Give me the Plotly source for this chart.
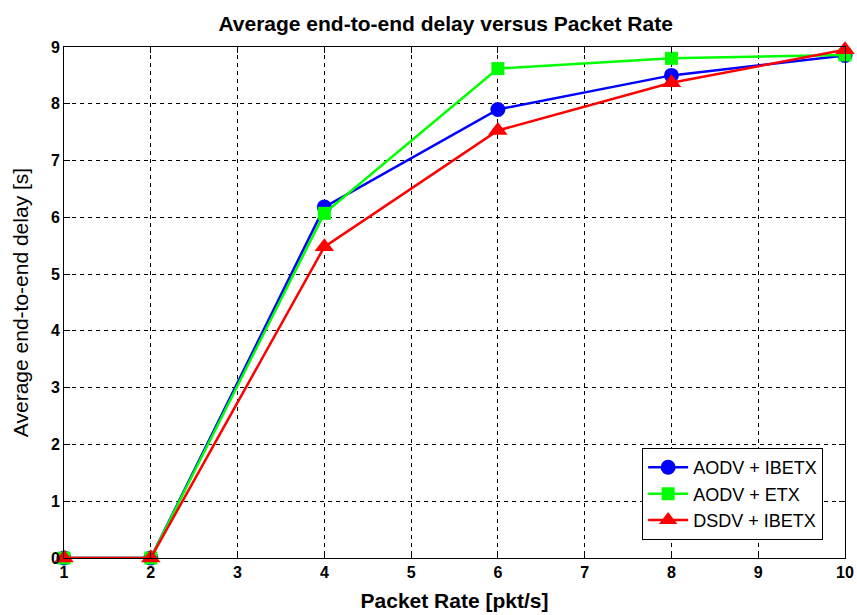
import plotly.graph_objects as go

packet_rate = [1, 2, 4, 6, 8, 10]
aodv_ibetx = [0.0, 0.0, 6.18, 7.90, 8.50, 8.85]
aodv_etx = [0.0, 0.0, 6.07, 8.62, 8.80, 8.86]
dsdv_ibetx = [0.0, 0.0, 5.48, 7.53, 8.37, 8.95]

x_ticks = list(range(1, 11))
y_ticks = list(range(0, 10))

series = [
    ("AODV + IBETX", aodv_ibetx, "#0000ff", "circle", 15),
    ("AODV + ETX", aodv_etx, "#00ff00", "square", 13),
    ("DSDV + IBETX", dsdv_ibetx, "#ff0000", "triangle-up", 17),
]

fig = go.Figure()
for name, vals, color, symbol, size in series:
    fig.add_trace(go.Scatter(
        x=packet_rate, y=vals, name=name, mode="lines+markers",
        line=dict(color=color, width=2.5),
        marker=dict(symbol=symbol, size=size, color=color),
        cliponaxis=False,
    ))

axis_common = dict(
    showline=True, linecolor="black", linewidth=1, mirror="ticks",
    ticks="inside", ticklen=6, tickcolor="black",
    showgrid=True, gridcolor="black", gridwidth=1, griddash="4px,4px",
    zeroline=False, automargin=False,
    tickfont=dict(family="Liberation Sans, Arial", size=16, color="black", weight="bold"),
)

fig.update_layout(
    width=857, height=615,
    paper_bgcolor="white", plot_bgcolor="white",
    margin=dict(l=64, r=12, t=47, b=57),
    title=dict(
        text="Average end-to-end delay versus Packet Rate",
        x=0.52, xanchor="center", y=0.962, yanchor="middle",
        font=dict(family="Liberation Sans, Arial", size=21, color="black", weight="bold"),
    ),
    xaxis=dict(
        range=[1, 10], tickvals=x_ticks,
        title=dict(text="Packet Rate [pkt/s]", standoff=13,
                   font=dict(family="Liberation Sans, Arial", size=21, color="black", weight="bold")),
        **axis_common,
    ),
    yaxis=dict(
        range=[0, 9], tickvals=y_ticks,
        title=dict(text="Average end-to-end delay [s]", standoff=16,
                   font=dict(family="Liberation Sans, Arial", size=21, color="black")),
        **axis_common,
    ),
    legend=dict(
        x=0.972, y=0.035, xanchor="right", yanchor="bottom",
        bgcolor="white", bordercolor="black", borderwidth=1,
        font=dict(family="Liberation Sans, Arial", size=18, color="black"),
        itemwidth=40, tracegroupgap=2,
    ),
    showlegend=True,
)

fig.write_html("out.html")
